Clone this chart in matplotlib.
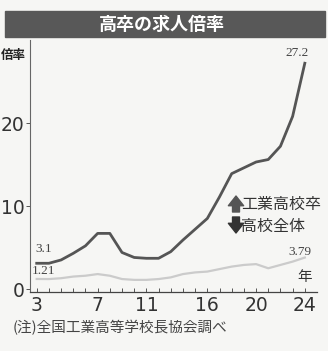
import matplotlib
matplotlib.use('Agg')
import matplotlib.pyplot as plt
from matplotlib import font_manager
from matplotlib.patches import Rectangle

# 求人倍率 (年度末2桁)
years = list(range(2, 25))
kogyo = [3.1, 3.1, 3.5, 4.3, 5.2, 6.7, 6.7, 4.4, 3.8, 3.7, 3.7, 4.5, 5.9,
         7.2, 8.5, 11.1, 13.9, 14.6, 15.3, 15.6, 17.2, 20.8, 27.2]
zentai = [1.21, 1.2, 1.3, 1.5, 1.6, 1.8, 1.6, 1.2, 1.1, 1.1, 1.2, 1.4, 1.8,
          2.0, 2.1, 2.4, 2.7, 2.9, 3.0, 2.5, 2.9, 3.3, 3.79]
tick_pos = [2, 7, 11, 16, 20, 24]
tick_labels = ['3', '7', '11', '16', '20', '24']
y_ticks = [0, 10, 20]

plt.rcParams['font.family'] = ['Noto Sans CJK JP', 'DejaVu Sans']
fams = {f.name for f in font_manager.fontManager.ttflist}
num_font = 'Liberation Sans Narrow' if 'Liberation Sans Narrow' in fams else 'DejaVu Sans'
val_font = 'Liberation Serif' if 'Liberation Serif' in fams else 'DejaVu Serif'

W, H = 328, 351
bg = '#f6f6f4'
fig = plt.figure(figsize=(W / 100, H / 100), dpi=100, facecolor=bg)

# タイトル帯
fig.patches.append(Rectangle((5 / W, 1 - 36.5 / H), 320 / W, 25 / H,
                             transform=fig.transFigure, color='#585858'))
fig.text(162 / W, 1 - 24.5 / H, '高卒の求人倍率', color='white', fontsize=13,
         fontweight='bold', ha='center', va='center')

ax = fig.add_axes([30 / W, 1 - 291.5 / H, 287 / W, 251.5 / H])
ax.set_facecolor('none')
ax.plot(years, zentai, color='#cbcbcb', lw=1.6)
ax.plot(years, kogyo, color='#555555', lw=2.0)
ax.set_xlim(1.45, 25)
ax.set_ylim(-0.3, 30)

ax.set_xticks(years, minor=True)
ax.set_xticks(tick_pos, tick_labels)
ax.set_yticks(y_ticks)
ax.tick_params(axis='x', which='both', direction='in', length=3, width=0.7,
               color='#555555', pad=3)
ax.tick_params(axis='y', direction='out', length=3, width=0.7, color='#555555', pad=1)
for lab in ax.get_xticklabels() + ax.get_yticklabels():
    lab.set_fontfamily(num_font)
    lab.set_fontsize(13.5)
    lab.set_color('#333333')

ax.spines['top'].set_visible(False)
ax.spines['right'].set_visible(False)
ax.spines['left'].set_linestyle((0, (1, 1)))
ax.spines['left'].set_linewidth(0.8)
ax.spines['left'].set_color('#666666')
ax.spines['bottom'].set_linewidth(0.9)
ax.spines['bottom'].set_color('#444444')

# 数値ラベル
vstyle = dict(textcoords='offset pixels', fontsize=9.5, color='#444444',
              family=val_font, ha='center', va='center')
ax.annotate(f'{kogyo[-1]}', (years[-1], kogyo[-1]), xytext=(-8, 10), **vstyle)
ax.annotate(f'{kogyo[0]}', (years[0], kogyo[0]), xytext=(7, 14), **vstyle)
ax.annotate(f'{zentai[0]}', (years[0], zentai[0]), xytext=(7, 8), **vstyle)
ax.annotate(f'{zentai[-1]}', (years[-1], zentai[-1]), xytext=(-5, 6), **vstyle)
ax.annotate('年', (years[-1], 0), xytext=(0, 12), textcoords='offset pixels',
            fontsize=10.5, color='#333333', ha='center', va='center')

fig.text(13 / W, 1 - 55 / H, '倍率', fontsize=9, fontweight='bold',
         color='#222222', ha='center', va='center')

# 凡例
ax.annotate('', xy=(236, H - 196), xytext=(236, H - 212), xycoords='figure pixels',
            arrowprops=dict(arrowstyle='simple,head_length=0.7,head_width=1.1,tail_width=0.5',
                            mutation_scale=10, color='#555555', shrinkA=0, shrinkB=0))
ax.annotate('', xy=(236, H - 233), xytext=(236, H - 217), xycoords='figure pixels',
            arrowprops=dict(arrowstyle='simple,head_length=0.7,head_width=1.1,tail_width=0.5',
                            mutation_scale=10, color='#333333', shrinkA=0, shrinkB=0))
fig.text(241 / W, 1 - 204 / H, '工業高校卒', fontsize=11.5, color='#333333', va='center')
fig.text(241 / W, 1 - 226 / H, '高校全体', fontsize=11.5, color='#333333', va='center')

fig.text(13 / W, 1 - 328 / H, '(注)全国工業高等学校長協会調べ', fontsize=10.5,
         color='#444444', va='center')

fig.savefig('out.png', dpi=100, facecolor=bg)
